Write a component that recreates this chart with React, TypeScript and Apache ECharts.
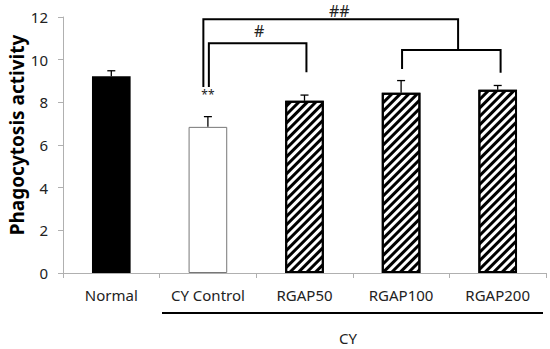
import React, { useEffect, useRef } from "react";
import * as echarts from "echarts";

const categories = ["Normal", "CY Control", "RGAP50", "RGAP100", "RGAP200"];
const means = [9.22, 6.85, 8.07, 8.45, 8.59];
const errors = [0.26, 0.48, 0.27, 0.57, 0.2];
const yTicks = { min: 0, max: 12, interval: 2 };

// bracket polylines: [fractional category position, value]
const brackets = [
  [[0.953, 8.72], [0.953, 11.89], [3.59, 11.89], [3.59, 10.45]],
  [[3.01, 9.56], [3.01, 10.45], [4.03, 10.45], [4.03, 9.39]],
  [[1.01, 8.72], [1.01, 10.77], [2.02, 10.77], [2.02, 9.41]],
];
const marks = [
  { text: "##", pos: [2.36, 12.28], size: 16 },
  { text: "#", pos: [1.53, 11.36], size: 16 },
  { text: "**", pos: [1.0, 8.39], size: 12 },
];

const FONT = "'Noto Sans', sans-serif";

export default function App() {
  const ref = useRef<HTMLDivElement>(null);
  useEffect(() => {
    const chart = echarts.init(ref.current!, null, { renderer: "svg" });
    const hatch = {
      symbol: "rect",
      symbolSize: 1,
      color: "#000",
      backgroundColor: "#fff",
      dashArrayX: [1, 0],
      dashArrayY: [2.3, 2.3],
      rotation: -Math.PI / 4,
    };
    const barData = means.map((v, i) => {
      if (i === 0) return { value: v, itemStyle: { color: "#000" } };
      if (i === 1)
        return { value: v, itemStyle: { color: "#fff", borderColor: "#777", borderWidth: 1 } };
      return {
        value: v,
        itemStyle: { color: "#fff", decal: hatch, borderColor: "#000", borderWidth: 2 },
      };
    });
    chart.setOption({
      animation: false,
      grid: { left: 63, right: 4, top: 17, bottom: 76 },
      xAxis: {
        type: "category",
        data: categories,
        axisLine: { lineStyle: { color: "#b0b0b0", width: 1 } },
        axisTick: { show: true, length: 5, lineStyle: { color: "#b0b0b0" } },
        axisLabel: { color: "#222", fontSize: 15, fontFamily: FONT, margin: 14 },
      },
      yAxis: {
        type: "value",
        min: yTicks.min,
        max: yTicks.max,
        interval: yTicks.interval,
        splitLine: { show: false },
        axisLine: { show: true, lineStyle: { color: "#b0b0b0", width: 1 } },
        axisTick: { show: true, length: 5, lineStyle: { color: "#b0b0b0" } },
        axisLabel: { color: "#222", fontSize: 15, fontFamily: FONT, margin: 15 },
      },
      series: [
        {
          type: "bar",
          data: barData,
          barWidth: "40%",
        },
        {
          type: "custom",
          data: means.map((v, i) => [i, v, errors[i]]),
          z: 3,
          renderItem: (params: any, api: any) => {
            const i = api.value(0);
            const v = api.value(1);
            const e = api.value(2);
            const p0 = api.coord([i, v]);
            const p1 = api.coord([i, v + e]);
            return {
              type: "group",
              children: [
                {
                  type: "line",
                  shape: { x1: p0[0], y1: p0[1], x2: p1[0], y2: p1[1] },
                  style: { stroke: "#000", lineWidth: 1.3 },
                },
                {
                  type: "line",
                  shape: { x1: p1[0] - 4, y1: p1[1], x2: p1[0] + 4, y2: p1[1] },
                  style: { stroke: "#000", lineWidth: 1.3 },
                },
              ],
            };
          },
        },
        {
          type: "custom",
          data: [0],
          clip: false,
          z: 4,
          renderItem: (params: any, api: any) => {
            const band = api.size([1, 0])[0];
            const x0 = api.coord([0, 0])[0];
            const toPx = (p: number[]) => [x0 + p[0] * band, api.coord([0, p[1]])[1]];
            const children: any[] = brackets.map((b) => ({
              type: "polyline",
              shape: { points: b.map(toPx) },
              style: { stroke: "#000", lineWidth: 2, fill: null },
            }));
            marks.forEach((m) => {
              const p = toPx(m.pos);
              children.push({
                type: "text",
                x: p[0],
                y: p[1],
                style: {
                  text: m.text,
                  fontSize: m.size,
                  fontFamily: FONT,
                  fill: "#222",
                  align: "center",
                  verticalAlign: "middle",
                },
              });
            });
            return { type: "group", children };
          },
        },
      ],
      graphic: [
        {
          type: "text",
          x: 17,
          y: 135,
          rotation: Math.PI / 2,
          style: {
            text: "Phagocytosis activity",
            fontSize: 19,
            fontWeight: "bold",
            fontFamily: FONT,
            fill: "#000",
            align: "center",
            verticalAlign: "middle",
          },
        },
        {
          type: "line",
          shape: { x1: 162, y1: 313, x2: 543, y2: 313 },
          style: { stroke: "#000", lineWidth: 2 },
        },
        {
          type: "text",
          x: 348,
          y: 338,
          style: {
            text: "CY",
            fontSize: 15,
            fontFamily: FONT,
            fill: "#222",
            align: "center",
            verticalAlign: "middle",
          },
        },
      ],
    });
    return () => chart.dispose();
  }, []);
  return (
    <div
      ref={ref}
      style={{ position: "fixed", left: 0, top: 0, width: 550, height: 349, background: "#fff" }}
    />
  );
}
